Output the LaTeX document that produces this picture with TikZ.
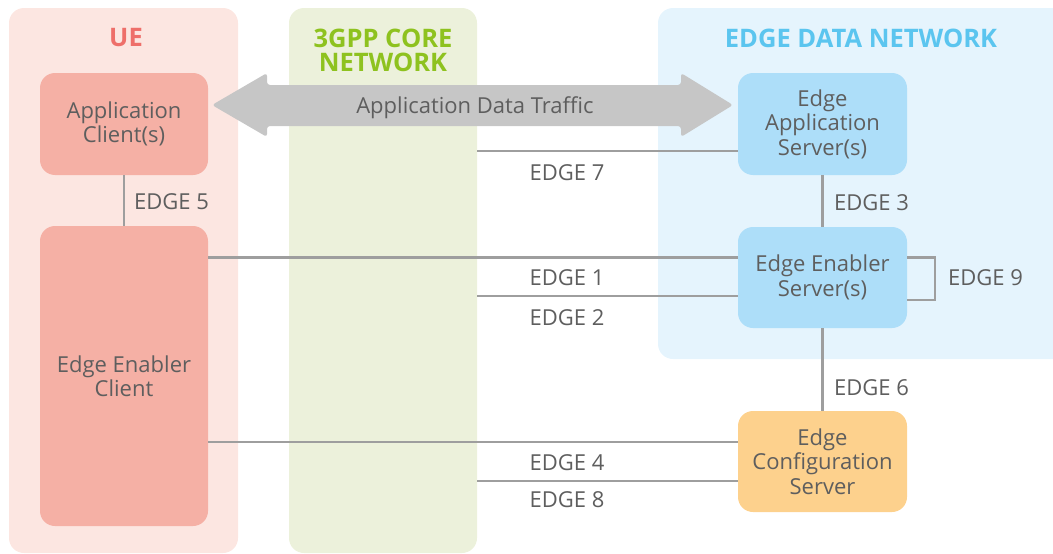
\documentclass[tikz,border=0pt]{standalone}
\usepackage{fontspec}
\setmainfont{Open Sans}
\definecolor{uebg}{HTML}{FCE6E1}
\definecolor{corebg}{HTML}{ECF1DB}
\definecolor{ednbg}{HTML}{E5F4FD}
\definecolor{acfill}{HTML}{F5B0A5}
\definecolor{easfill}{HTML}{ADDEF9}
\definecolor{ecsfill}{HTML}{FDD18D}
\definecolor{arrowc}{HTML}{C6C6C6}
\definecolor{linec}{HTML}{9E9E9E}
\definecolor{txt}{HTML}{5E5E5E}
\definecolor{uet}{HTML}{EE6F6A}
\definecolor{coret}{HTML}{8EC21F}
\definecolor{ednt}{HTML}{5BC5EF}
\begin{document}
\begin{tikzpicture}[x=1pt,y=-1pt,
  panel/.style={rectangle, rounded corners=15pt, inner sep=0pt},
  box/.style={rectangle, rounded corners=15pt, inner sep=0pt, minimum width=169pt, minimum height=102pt, align=center, font=\fontsize{22}{24.5}\selectfont, text=txt},
  link/.style={draw=linec, line width=2.8pt},
  lbl/.style={font=\fontsize{22}{24.5}\selectfont, text=txt, inner sep=0pt},
  ttl/.style={font=\fontsize{25.5}{24}\selectfont\bfseries, align=center, inner sep=0pt}]
\useasboundingbox (0,0) rectangle (1053,554);
\clip (0,0) rectangle (1053,554);
% panels
\node[panel, fill=uebg, minimum width=229pt, minimum height=545pt] (ue) at (123.5,280.5) {};
\node[panel, fill=corebg, minimum width=188pt, minimum height=545pt] (core) at (383,280.5) {};
\node[panel, fill=ednbg, minimum width=420pt, minimum height=351pt] (edn) at (868,183.5) {};
% titles
\node[ttl, text=uet] (uetitle) at (126,38) {UE};
\node[ttl, text=coret] (coretitle) at (383,50) {3GPP CORE\\NETWORK};
\node[ttl, text=ednt] (edntitle) at (861,38) {EDGE DATA NETWORK};
% traffic arrow
\coordinate (atl) at (212,105);
\coordinate (atr) at (733,105);
\fill[arrowc, rounded corners=3pt] (atl) -- (267,73) -- (267,85) -- (681,85) -- (681,73) -- (atr) -- (681,137) -- (681,126) -- (267,126) -- (267,137) -- cycle;
\node[lbl] (adt) at (475,108) {Application Data Traffic};
% boxes
\node[box, fill=acfill, minimum width=168pt] (ac) at (124,124) {Application\\Client(s)};
\node[box, fill=acfill, minimum width=168pt, minimum height=300pt] (eec) at (124,376) {Edge Enabler\\Client};
\node[box, fill=easfill] (eas) at (822.5,124) {Edge\\Application\\Server(s)};
\node[box, fill=easfill, minimum height=101pt] (ees) at (822.5,277.5) {Edge Enabler\\Server(s)};
\node[box, fill=ecsfill, minimum height=101pt] (ecs) at (822.5,461.5) {Edge\\Configuration\\Server};
% connector anchors
\coordinate (c7) at (477,151);
\coordinate (c1) at (208,257.5);
\coordinate (c2) at (477,296);
\coordinate (c4) at (208,442);
\coordinate (c8) at (477,481);
\coordinate (n9a) at (935,257.5);
\coordinate (n9b) at (935,300);
% connectors
\draw[link] (ac.south) -- (eec.north);
\draw[link] (eas.south) -- (ees.north);
\draw[link] (ees.south) -- (ecs.north);
\draw[link] (c7) -- (c7 -| eas.west);
\draw[link] (c1) -- (c1 -| ees.west);
\draw[link] (c2) -- (c2 -| ees.west);
\draw[link] (c4) -- (c4 -| ecs.west);
\draw[link] (c8) -- (c8 -| ecs.west);
\draw[link] (n9a -| ees.east) -- (n9a) -- (n9b) -- (n9b -| ees.east);
% labels
\node[lbl] (l7) at (567,173) {EDGE 7};
\node[lbl, anchor=west] (l5) at (134,202) {EDGE 5};
\node[lbl, anchor=west] (l3) at (834,203) {EDGE 3};
\node[lbl] (l1) at (567,278) {EDGE 1};
\node[lbl] (l2) at (567,318) {EDGE 2};
\node[lbl, anchor=west] (l9) at (948,278) {EDGE 9};
\node[lbl, anchor=west] (l6) at (834,388) {EDGE 6};
\node[lbl] (l4) at (567,463) {EDGE 4};
\node[lbl] (l8) at (567,500) {EDGE 8};
\end{tikzpicture}
\end{document}
